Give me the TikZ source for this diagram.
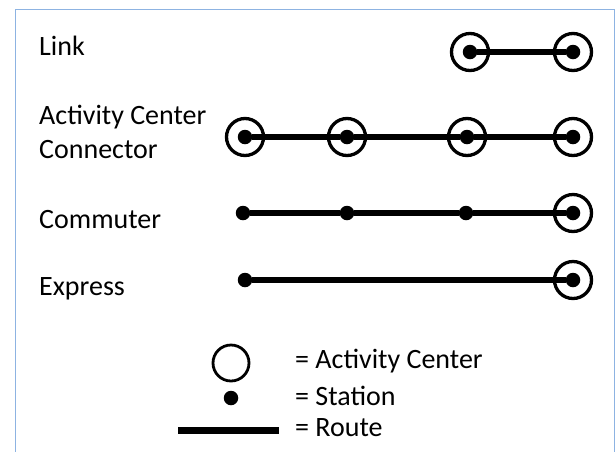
\documentclass[tikz,border=0pt]{standalone}
\usepackage{fontspec}
\setmainfont{Carlito}
\definecolor{framecol}{RGB}{141,179,226}
\begin{document}
\begin{tikzpicture}[x=1pt,y=-1pt,
  ac/.style={circle,draw=black,line width=3.3pt,minimum size=37pt,inner sep=0pt},
  st/.style={circle,fill=black,minimum size=14.5pt,inner sep=0pt},
  route/.style={line width=6.5pt},
  lbl/.style={anchor=base west,inner sep=0pt,font=\fontsize{28}{32}\selectfont}]
\useasboundingbox (0,0) rectangle (616,451);
\draw[framecol,line width=1pt] (15.5,460) -- (15.5,9.5) -- (614.5,9.5) -- (614.5,460);
% labels
\node[lbl] (tlink) at (39,55) {Link};
\node[lbl] (tacc1) at (39,124) {Activity Center};
\node[lbl] (tacc2) at (39,158) {Connector};
\node[lbl] (tcom) at (39,228) {Commuter};
\node[lbl] (texp) at (39,295) {Express};
% Link
\node[ac] (l1c) at (470,52) {};
\node[ac] (l2c) at (573,52) {};
\node[st] (l1) at (470,52) {};
\node[st] (l2) at (573,52) {};
\draw[route] (l1) -- (l2);
% Activity center connector
\foreach \i/\x in {1/245,2/347,3/467,4/573}{
  \node[ac] (a\i c) at (\x,137) {};
  \node[st] (a\i) at (\x,137) {};
}
\draw[route] (a1) -- (a2) -- (a3) -- (a4);
% Commuter
\node[st] (c1) at (243,213) {};
\node[st] (c2) at (347,213) {};
\node[st] (c3) at (466,213) {};
\node[ac] (c4c) at (573,213) {};
\node[st] (c4) at (573,213) {};
\draw[route] (c1) -- (c2) -- (c3) -- (c4);
% Express
\node[st] (e1) at (245,280) {};
\node[ac] (e2c) at (573,280) {};
\node[st] (e2) at (573,280) {};
\draw[route] (e1) -- (e2);
% Legend
\node[ac,line width=2.8pt,minimum size=36pt] (lgac) at (231,363) {};
\node[st] (lgst) at (231,398) {};
\coordinate (lgr1) at (178,430);
\coordinate (lgr2) at (279,430);
\draw[line width=7pt] (lgr1) -- (lgr2);
\node[lbl] (tlac) at (295,368) {= Activity Center};
\node[lbl] (tlst) at (295,405) {= Station};
\node[lbl] (tlr) at (295,436) {= Route};
\end{tikzpicture}
\end{document}
